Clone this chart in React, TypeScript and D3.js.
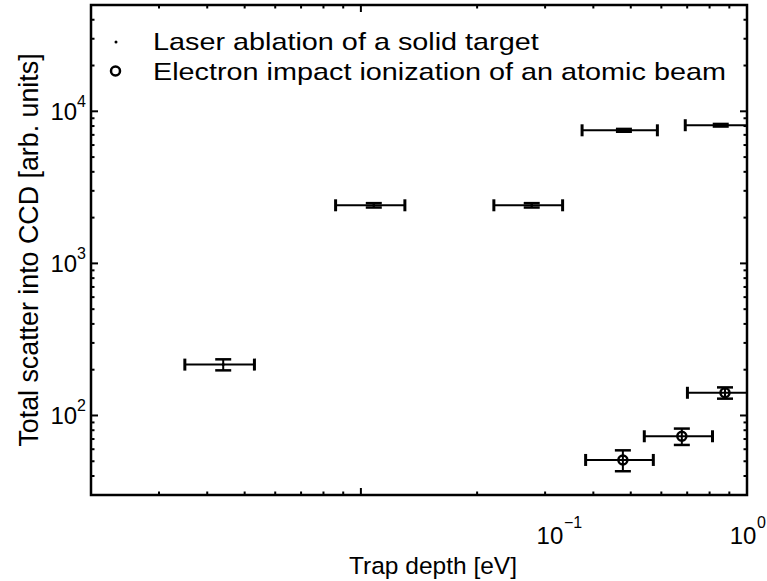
import React from "react";
import * as d3 from "d3";

// Laser ablation of a solid target
const laserX = [0.044, 0.108, 0.277, 0.48, 0.855];
const laserXErr = [0.009, 0.022, 0.056, 0.106, 0.163];
const laserY = [216, 2410, 2410, 7500, 8100];
const laserYErr = [18, 80, 80, 160, 160];

// Electron impact ionization of an atomic beam
const elecX = [0.477, 0.678, 0.877];
const elecXErr = [0.095, 0.136, 0.176];
const elecY = [51, 73, 141];
const elecYErr = [8, 9, 12];

const legendLabels = [
  "Laser ablation of a solid target",
  "Electron impact ionization of an atomic beam",
];
const xLabel = "Trap depth [eV]";
const yLabel = "Total scatter into CCD [arb. units]";
const xTickExps = [-1, 0];
const yTickExps = [2, 3, 4];

const W = 767;
const H = 581;
const L = 91, R = 747, T = 5, B = 495;
const FONT = "'Liberation Sans', Arial, Helvetica, sans-serif";

export default function App() {
  const x = d3.scaleLog().domain([0.02, 1]).range([L, R]);
  const y = d3.scaleLog().domain([30, 50000]).range([B, T]);

  const xMinor: number[] = [];
  for (const dec of [0.01, 0.1]) for (let k = 2; k <= 9; k++) {
    const v = k * dec;
    if (v >= 0.02 && v < 1) xMinor.push(v);
  }
  const yMinor: number[] = [];
  for (const dec of [10, 100, 1000, 10000]) for (let k = 2; k <= 9; k++) {
    const v = k * dec;
    if (v >= 30 && v <= 50000) yMinor.push(v);
  }
  const majLen = 7, minLen = 3.5;

  const errBar = (cx: number, cy: number, ex: number, ey: number, key: string) => {
    const x0 = x(cx - ex), x1 = x(cx + ex), xc = x(cx);
    const yc = y(cy), y0 = y(cy - ey), y1 = y(cy + ey);
    return (
      <g key={key}>
        <line x1={x0} x2={x1} y1={yc} y2={yc} stroke="#000" strokeWidth={2} />
        <line x1={x0} x2={x0} y1={yc - 6} y2={yc + 6} stroke="#000" strokeWidth={3} />
        <line x1={x1} x2={x1} y1={yc - 6} y2={yc + 6} stroke="#000" strokeWidth={3} />
        <line x1={xc} x2={xc} y1={y0} y2={y1} stroke="#000" strokeWidth={2} />
        <line x1={xc - 8} x2={xc + 8} y1={y0} y2={y0} stroke="#000" strokeWidth={2.5} />
        <line x1={xc - 8} x2={xc + 8} y1={y1} y2={y1} stroke="#000" strokeWidth={2.5} />
      </g>
    );
  };

  return (
    <svg width={W} height={H} style={{ position: "absolute", left: 0, top: 0, background: "#fff" }}
      fontFamily={FONT}>
      <defs>
        <clipPath id="plotclip"><rect x={L} y={T} width={R - L} height={B - T} /></clipPath>
      </defs>
      <rect x={0} y={0} width={W} height={H} fill="#fff" />

      {/* ticks */}
      <g stroke="#000" strokeWidth={2}>
        {xMinor.map((v, i) => (
          <g key={"xm" + i}>
            <line x1={x(v)} x2={x(v)} y1={B} y2={B - minLen} />
            <line x1={x(v)} x2={x(v)} y1={T} y2={T + minLen} />
          </g>
        ))}
        {xTickExps.map((e) => (
          <g key={"xM" + e}>
            <line x1={x(10 ** e)} x2={x(10 ** e)} y1={B} y2={B - majLen} />
            <line x1={x(10 ** e)} x2={x(10 ** e)} y1={T} y2={T + majLen} />
          </g>
        ))}
        {yMinor.map((v, i) => (
          <g key={"ym" + i}>
            <line x1={L} x2={L + minLen} y1={y(v)} y2={y(v)} />
            <line x1={R} x2={R - minLen} y1={y(v)} y2={y(v)} />
          </g>
        ))}
        {yTickExps.map((e) => (
          <g key={"yM" + e}>
            <line x1={L} x2={L + majLen} y1={y(10 ** e)} y2={y(10 ** e)} />
            <line x1={R} x2={R - majLen} y1={y(10 ** e)} y2={y(10 ** e)} />
          </g>
        ))}
      </g>

      {/* data */}
      <g clipPath="url(#plotclip)">
        {laserX.map((v, i) => errBar(v, laserY[i], laserXErr[i], laserYErr[i], "l" + i))}
        {laserX.map((v, i) => (
          <circle key={"ld" + i} cx={x(v)} cy={y(laserY[i])} r={1.5} fill="#000" />
        ))}
        {elecX.map((v, i) => errBar(v, elecY[i], elecXErr[i], elecYErr[i], "e" + i))}
        {elecX.map((v, i) => (
          <circle key={"ed" + i} cx={x(v)} cy={y(elecY[i])} r={4.5} fill="none" stroke="#000" strokeWidth={2.5} />
        ))}
      </g>

      {/* frame */}
      <rect x={L} y={T} width={R - L} height={B - T} fill="none" stroke="#000" strokeWidth={2.5} />

      {/* x tick labels (10^-1 label sits where the reference prints it) */}
      {xTickExps.map((e) => {
        const cx = e === 0 ? x(1) : x(10 ** -0.5);
        return (
          <text key={"xl" + e} x={cx - 4} y={544} fontSize={24} textAnchor="middle">
            10
          </text>
        );
      })}
      {xTickExps.map((e) => {
        const cx = e === 0 ? x(1) : x(10 ** -0.5);
        return (
          <text key={"xs" + e} x={cx + 10} y={528} fontSize={16} textAnchor="start">
            {e === 0 ? "0" : "\u2212" + String(-e)}
          </text>
        );
      })}
      {/* y tick labels */}
      {yTickExps.map((e) => (
        <text key={"yl" + e} x={86} y={y(10 ** e) + 9} fontSize={24} textAnchor="end">
          <tspan>10</tspan>
          <tspan fontSize={16} dy={-13}>{e}</tspan>
        </text>
      ))}

      {/* axis labels */}
      <text x={433} y={574} fontSize={24.5} textAnchor="middle">{xLabel}</text>
      <text transform={`translate(38,${(T + B) / 2}) rotate(-90)`} fontSize={26.8} textAnchor="middle">{yLabel}</text>

      {/* legend */}
      <circle cx={116} cy={42} r={1.5} fill="#000" />
      <text transform="translate(153,50) scale(1.2,1)" fontSize={24}>{legendLabels[0]}</text>
      <circle cx={115.5} cy={71} r={4.5} fill="none" stroke="#000" strokeWidth={2.5} />
      <text transform="translate(153,80) scale(1.2,1)" fontSize={24}>{legendLabels[1]}</text>
    </svg>
  );
}
